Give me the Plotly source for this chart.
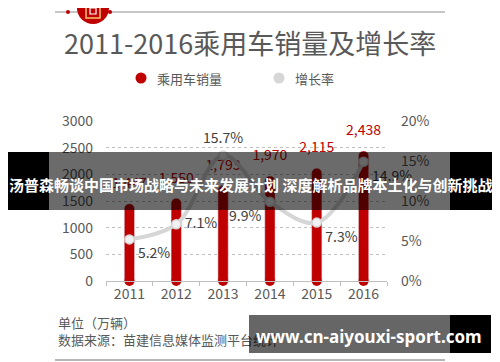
import plotly.graph_objects as go

years = ["2011", "2012", "2013", "2014", "2015", "2016"]
sales = [1447, 1550, 1793, 1970, 2115, 2438]          # 万辆
growth = [0.052, 0.071, 0.157, 0.099, 0.073, 0.149]
growth_pos = ["bottom right", "middle right", "top center", "bottom left", "bottom right", "bottom right"]
left_ticks = [0, 500, 1000, 1500, 2000, 2500, 3000]
right_ticks = [0, 0.05, 0.10, 0.15, 0.20]

title = "2011-2016乘用车销量及增长率"
legend_names = ["乘用车销量", "增长率"]
unit_text = "单位（万辆）"
source_text = "数据来源：苗建信息媒体监测平台统计"
banner_text = "汤普森畅谈中国市场战略与未来发展计划 深度解析品牌本土化与创新挑战"
watermark_text = "www.cn-aiyouxi-sport.com"

RED = "#c00000"
GRAYLINE = "#d6d6d6"
TXT = "#595959"
CJK = "Noto Sans CJK SC, Noto Sans, sans-serif"
W, H = 500, 362
OFF = 8                      # page body margin of the html page
FW, FH = W - OFF, H - OFF    # figure size so the page fills the window


def dx(px):
    return (px - OFF) / FW


def dy(py):
    return 1 - (py - OFF) / FH


fig = go.Figure()

# bars
fig.add_trace(go.Bar(x=years, y=sales, marker=dict(color=RED, cornerradius=5),
                     width=0.22, showlegend=False, hoverinfo="skip"))
# rounded bottoms
fig.add_trace(go.Scatter(x=years, y=[0] * len(years), mode="markers",
                         marker=dict(color=RED, size=10, line=dict(width=0)),
                         cliponaxis=False, showlegend=False, hoverinfo="skip"))
# bar labels
fig.add_trace(go.Scatter(x=years, y=sales, mode="markers+text",
                         marker=dict(size=18, opacity=0),
                         text=[f"{v:,}" for v in sales], textposition="top center",
                         textfont=dict(color=RED, size=14, family=CJK),
                         cliponaxis=False, showlegend=False, hoverinfo="skip"))
# growth line
fig.add_trace(go.Scatter(x=years, y=growth, yaxis="y2", mode="lines+markers",
                         line=dict(color=GRAYLINE, width=4, shape="spline", smoothing=1.0),
                         marker=dict(color="#f2f2f2", size=9, line=dict(color=GRAYLINE, width=1.5)),
                         cliponaxis=False, showlegend=False, hoverinfo="skip"))
fig.add_trace(go.Scatter(x=years, y=growth, yaxis="y2", mode="markers+text",
                         marker=dict(size=12, opacity=0),
                         text=[f"{g*100:.1f}%" for g in growth], textposition=growth_pos,
                         textfont=dict(color="#404040", size=14, family=CJK),
                         cliponaxis=False, showlegend=False, hoverinfo="skip"))

# page-level axes for decoration / legend / footer
fig.add_trace(go.Scatter(x=[141, 279], y=[78, 78], xaxis="x3", yaxis="y3", mode="markers",
                         marker=dict(color=[RED, GRAYLINE], size=11),
                         cliponaxis=False, showlegend=False, hoverinfo="skip"))
fig.add_trace(go.Scatter(x=[58, 58], y=[325, 342], xaxis="x3", yaxis="y3", mode="text",
                         text=[unit_text, source_text], textposition="middle right",
                         textfont=dict(color=TXT, size=13, family=CJK),
                         cliponaxis=False, showlegend=False, hoverinfo="skip"))

shapes = []


def pshape(**kw):
    d = dict(xref="x3", yref="y3", layer="above")
    d.update(kw)
    shapes.append(d)


# top decoration
pshape(type="line", x0=55, x1=445, y0=12, y1=12, line=dict(color="#8c8c8c", width=1))
pshape(type="circle", x0=66, x1=70, y0=10, y1=14, fillcolor=RED, line=dict(width=0))
pshape(type="circle", x0=108, x1=112, y0=10, y1=14, fillcolor=RED, line=dict(width=0))
pshape(type="circle", x0=77, x1=109, y0=-8, y1=24, fillcolor=RED, line=dict(width=0))
pshape(type="rect", x0=86, x1=100, y0=4, y1=18, line=dict(color="#f5c46a", width=1.5))
pshape(type="rect", x0=90, x1=96, y0=8, y1=14, line=dict(color="#ffffff", width=1.2))
# bottom line
pshape(type="line", x0=55, x1=445, y0=360, y1=360, line=dict(color="#6e6e6e", width=1.2))
# banner overlay
pshape(type="rect", x0=8, x1=49, y0=152, y1=210, fillcolor="#000000", line=dict(width=0))
pshape(type="rect", x0=450, x1=493, y0=152, y1=210, fillcolor="#000000", line=dict(width=0))
pshape(type="rect", x0=49, x1=450, y0=152, y1=210, fillcolor="rgba(0,0,0,0.58)", line=dict(width=0))
# watermark overlay
pshape(type="rect", x0=249, x1=450, y0=315, y1=353, fillcolor="rgba(0,0,0,0.6)", line=dict(width=0))
pshape(type="rect", x0=450, x1=491, y0=315, y1=353, fillcolor="#000000", line=dict(width=0))

annotations = [
    dict(x=250, y=42, xref="x3", yref="y3", text=title, showarrow=False,
         font=dict(size=27, color=TXT, family=CJK), xanchor="center", yanchor="middle"),
    dict(x=155, y=78, xref="x3", yref="y3", text=legend_names[0], showarrow=False,
         font=dict(size=13, color=TXT, family=CJK), xanchor="left", yanchor="middle"),
    dict(x=293, y=78, xref="x3", yref="y3", text=legend_names[1], showarrow=False,
         font=dict(size=13, color=TXT, family=CJK), xanchor="left", yanchor="middle"),
    dict(x=250, y=184, xref="x3", yref="y3", text=f"<b>{banner_text}</b>", showarrow=False,
         font=dict(size=15, color="#ffffff", family=CJK), xanchor="center", yanchor="middle"),
    dict(x=369, y=336, xref="x3", yref="y3", text=f"<b>{watermark_text}</b>", showarrow=False,
         font=dict(size=17, color="#ffffff", family="Noto Sans, sans-serif"),
         xanchor="center", yanchor="middle"),
]

fig.update_layout(
    width=FW, height=FH, margin=dict(l=0, r=0, t=0, b=0, autoexpand=False),
    paper_bgcolor="#ffffff", plot_bgcolor="rgba(0,0,0,0)",
    showlegend=False, bargap=0.5,
    font=dict(family=CJK, color=TXT),
    xaxis=dict(domain=[dx(106), dx(387)], type="category", range=[-0.5, 5.5],
               showgrid=False, showline=True, linecolor="#bfbfbf", linewidth=1,
               ticks="outside", tickson="boundaries", ticklen=4, tickcolor="#bfbfbf",
               tickfont=dict(size=14, color=TXT), anchor="y", fixedrange=True,
               automargin=False),
    yaxis=dict(domain=[dy(281), dy(121)], range=[0, 3000], tickvals=left_ticks,
               showgrid=True, gridcolor="#bfbfbf", griddash="dot", gridwidth=1,
               zeroline=False, showline=False, ticks="", ticklabelstandoff=12,
               tickfont=dict(size=14, color=TXT), anchor="x", automargin=False),
    yaxis2=dict(overlaying="y", side="right", range=[0, 0.20], tickvals=right_ticks,
                tickformat=".0%", showgrid=False, zeroline=False, showline=False,
                ticks="", ticklabelstandoff=13, tickfont=dict(size=14, color=TXT), anchor="x",
                automargin=False),
    xaxis3=dict(domain=[0, 1], range=[OFF, W], visible=False, anchor="y3", fixedrange=True,
                automargin=False),
    yaxis3=dict(domain=[0, 1], range=[H, OFF], visible=False, anchor="x3", fixedrange=True,
                automargin=False),
    shapes=shapes, annotations=annotations,
)

fig.write_html("out.html")
